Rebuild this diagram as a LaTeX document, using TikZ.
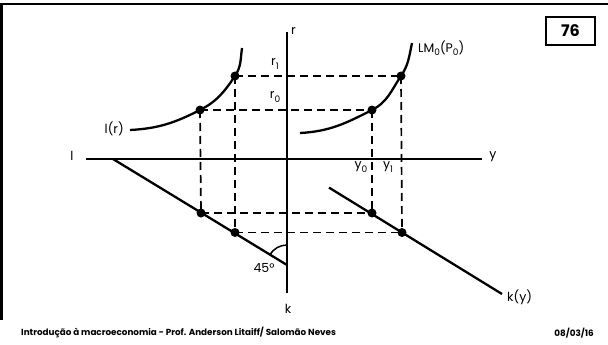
\documentclass[tikz,border=0pt]{standalone}
\usepackage{fontspec}
\setmainfont{Poppins}
\usetikzlibrary{positioning}
\newcommand\lowidx[1]{\raisebox{-0.28em}{\fontsize{9}{9}\selectfont #1}}

\begin{document}
\begin{tikzpicture}[
    x=1pt,y=-1pt,
    axis/.style={line width=2.3pt},
    guide/.style={line width=1.7pt,dash pattern=on 8pt off 5pt},
    dot/.style={circle,fill,inner sep=0pt,minimum size=9pt},
    lbl/.style={font=\fontsize{12.5}{15}\selectfont,inner sep=1pt},
    foot/.style={font=\bfseries\fontsize{8.8}{10}\selectfont,inner sep=0pt}
  ]
    \useasboundingbox (0,0) rectangle (608,345);
    % frame
    \draw[line width=2.7pt] (0,4) -- (608,4);
    \draw[line width=2.7pt] (1.3,3) -- (1.3,320);
    \node[draw,line width=1.1pt,minimum width=49pt,minimum height=28pt,font=\bfseries\fontsize{16}{18}\selectfont] (page) at (570.5,31) {76};
    % axes
    \coordinate (rtop) at (287,32);
    \coordinate (kbot) at (287,293);
    \coordinate (lend) at (86,159);
    \coordinate (yend) at (482,159);
    \draw[axis] (rtop) -- (kbot);
    \draw[axis] (lend) -- (yend);
    \node[lbl,anchor=west] (rlab) at (290,31) {r};
    \node[lbl] (klab) at (288,309) {k};
    \node[lbl] (llab) at (72,156) {l};
    \node[lbl] (ylab) at (493,157) {y};
    % 45 degree line and k(y)
    \coordinate (ds) at (113,159);
    \coordinate (de) at (287,265);
    \coordinate (ks) at (329,187.6);
    \coordinate (ke) at (502,294);
    \draw[axis] (ds) -- (de);
    \draw[axis] (ks) -- (ke);
    \draw[line width=1.5pt] (287,245) arc[start angle=-90,end angle=-148.6,radius=20];
    \node[lbl] (ang) at (264,268) {45°};
    \node[lbl,anchor=west] (kylab) at (506,297) {k(y)};
    % points
    \coordinate (a0) at (200,110);
    \coordinate (a1) at (235,76);
    \coordinate (b0) at (372,110);
    \coordinate (b1) at (401,76);
    \coordinate (c0) at (201,213);
    \coordinate (c1) at (235,232.5);
    \coordinate (d0) at (372,213);
    \coordinate (d1) at (402,232.5);
    % curves
    \draw[axis] (130,130) to[out=3,in=207] (a0) to[out=27,in=236] (a1) to[out=56,in=262] (242,48);
    \draw[axis] (300,133) to[out=3,in=207] (b0) to[out=27,in=236] (b1) to[out=56,in=258] (412,43);
    \node[lbl,anchor=east] (lr) at (125,129) {l(r)};
    \node[lbl,anchor=west] (lm) at (417,48) {LM\lowidx{0}(P\lowidx{0})};
    % guides
    \foreach \p/\q in {a0/b0,a1/b1,a0/c0,a1/c1,b0/d0,b1/d1,c0/d0,c1/d1}
      \draw[guide] (\p) -- (\q);
    \foreach \p in {a0,a1,b0,b1,c0,c1,d0,d1}
      \node[dot] at (\p) {};
    \node[lbl] (r1) at (275,64) {r\lowidx{1}};
    \node[lbl] (r0) at (275,97) {r\lowidx{0}};
    \node[lbl] (y0) at (361,167) {y\lowidx{0}};
    \node[lbl] (y1) at (388,167) {y\lowidx{1}};
    % footer
    \node[foot,anchor=west] (course) at (21,333) {Introdução à macroeconomia - Prof. Anderson Litaiff/ Salomão Neves};
    \node[foot,anchor=east] (date) at (594,333) {08/03/16};
  \end{tikzpicture}
\end{document}
